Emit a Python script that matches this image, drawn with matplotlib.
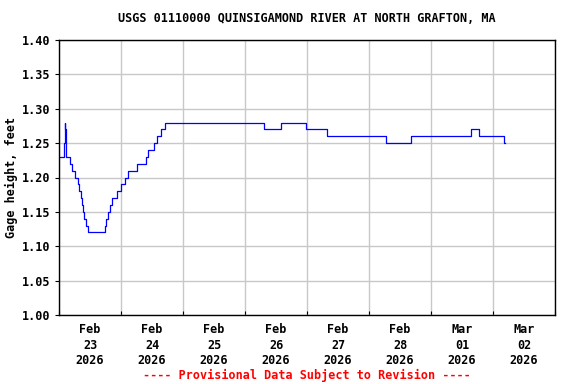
import numpy as np
import matplotlib
matplotlib.use("Agg")
import matplotlib.pyplot as plt
from datetime import datetime, timedelta
import matplotlib.dates as mdates

# gage height readings (hours after Feb 23 2026 00:00, feet) - value holds until next change
hours = [0.0, 2.0, 2.2, 2.45, 2.7,
         4.3, 5.1, 6.2, 7.2, 7.7, 8.4, 8.8, 9.3, 9.7, 10.3, 11.2,
         17.9, 18.2, 18.8, 19.7, 20.6, 22.3, 23.9, 25.5, 26.8, 30.3, 33.6,
         34.6, 36.8, 37.8, 39.5, 41.0,
         79.3, 85.8, 95.5, 103.8, 126.6, 136.4, 159.4, 162.7, 172.4, 172.6]
gage = [1.23, 1.25, 1.28, 1.27, 1.23,
        1.22, 1.21, 1.20, 1.19, 1.18, 1.17, 1.16, 1.15, 1.14, 1.13, 1.12,
        1.13, 1.14, 1.15, 1.16, 1.17, 1.18, 1.19, 1.20, 1.21, 1.22, 1.23,
        1.24, 1.25, 1.26, 1.27, 1.28,
        1.27, 1.28, 1.27, 1.26, 1.25, 1.26, 1.27, 1.26, 1.25, 1.25]

day_labels = ["Feb\n23\n2026", "Feb\n24\n2026", "Feb\n25\n2026", "Feb\n26\n2026",
              "Feb\n27\n2026", "Feb\n28\n2026", "Mar\n01\n2026", "Mar\n02\n2026"]
yticks = [1.00, 1.05, 1.10, 1.15, 1.20, 1.25, 1.30, 1.35, 1.40]

start = datetime(2026, 2, 23)
t = [start + timedelta(hours=h) for h in hours]

font = dict(family="DejaVu Sans Mono", weight="bold", size=8.5)

fig = plt.figure(figsize=(5.76, 3.84), dpi=100)
ax = fig.add_axes([59/576, 1 - 315/384, 496/576, 275/384])
ax.plot(t, gage, color="#0000ff", lw=0.9, drawstyle="steps-post")

ax.set_xlim(start, start + timedelta(days=8))
ax.set_ylim(1.00, 1.40)
ax.set_yticks(yticks)
ax.set_yticklabels(["%.2f" % v for v in yticks], fontdict=font)

majors = [start + timedelta(days=i) for i in range(9)]
mids = [start + timedelta(days=i, hours=12) for i in range(8)]
ax.set_xticks(majors)
ax.set_xticklabels([""] * len(majors))
ax.set_xticks(mids, minor=True)
ax.set_xticklabels(day_labels, minor=True, fontdict=font, linespacing=1.25)
ax.tick_params(axis="x", which="minor", length=0, pad=6)
ax.tick_params(axis="x", which="major", length=3, direction="in")
ax.tick_params(axis="y", length=3, direction="out", pad=3)

ax.grid(True, which="major", color="#c8c8c8", lw=1)
for s in ax.spines.values():
    s.set_linewidth(1)

ax.set_ylabel("Gage height, feet", fontdict=font)
ax.yaxis.set_label_coords(-0.083, 0.5)
fig.text(307/576, 1 - 19/384, "USGS 01110000 QUINSIGAMOND RIVER AT NORTH GRAFTON, MA",
         ha="center", va="center", **font)
fig.text(307/576, 1 - 375/384, "---- Provisional Data Subject to Revision ----",
         ha="center", va="center", color="red", **font)

fig.savefig("out.png", dpi=100)
